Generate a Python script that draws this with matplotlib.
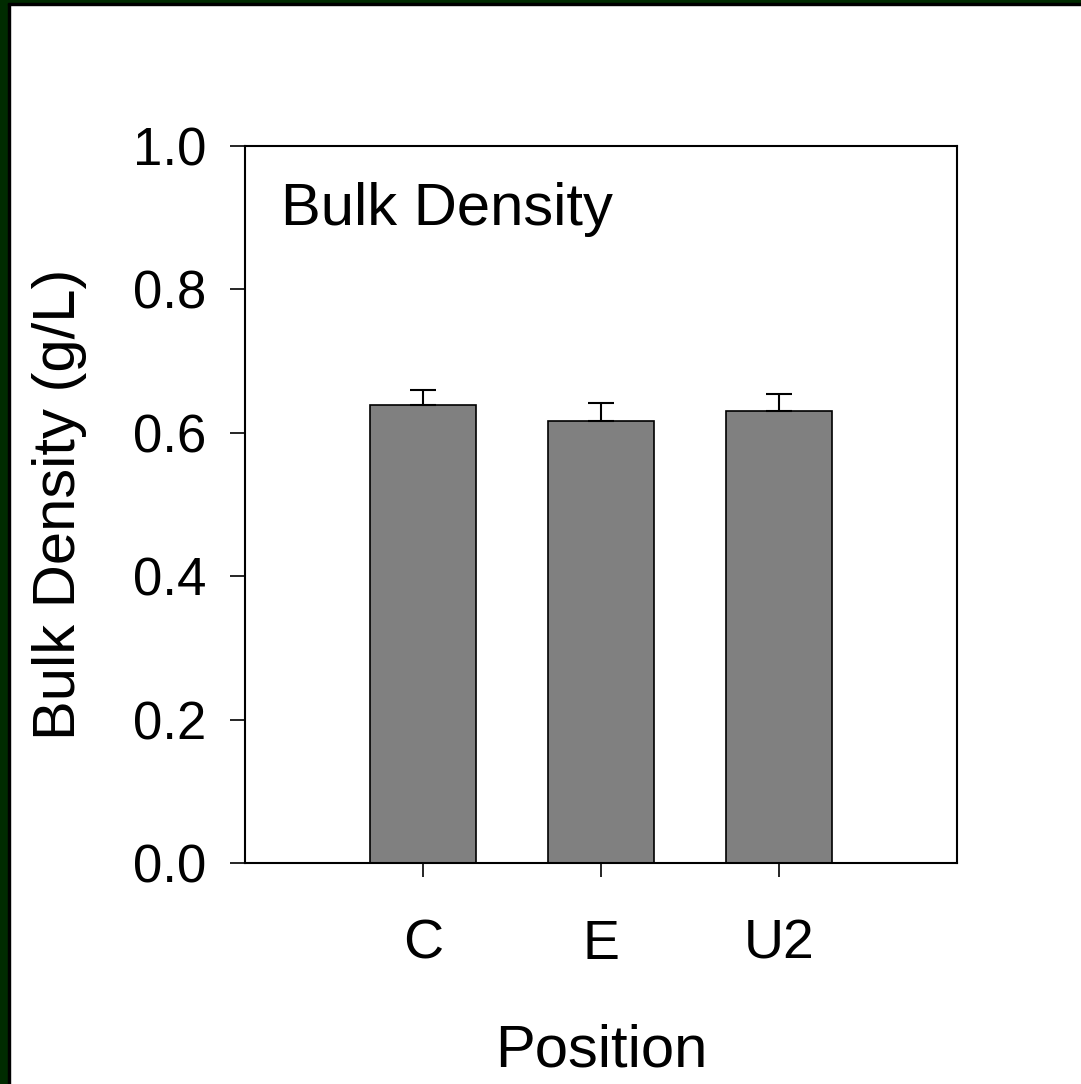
import matplotlib
matplotlib.use("Agg")
import matplotlib.pyplot as plt
from matplotlib.patches import Rectangle

categories = ["C", "E", "U2"]
values = [0.639, 0.617, 0.631]
errors = [0.021, 0.025, 0.023]
yticks = [0.0, 0.2, 0.4, 0.6, 0.8, 1.0]

plt.rcParams['font.family'] = ['Liberation Sans', 'DejaVu Sans']

fig = plt.figure(figsize=(10.81, 10.84), dpi=100)
fig.patch.set_facecolor('white')
# dark green border at left and top
fig.add_artist(Rectangle((0, 0), 8/1081, 1, transform=fig.transFigure, color='#002b00', zorder=0))
fig.add_artist(Rectangle((8/1081, 0), 2/1081, 1, transform=fig.transFigure, color='black', zorder=0))
fig.add_artist(Rectangle((0, 1 - 3/1084), 1, 3/1084, transform=fig.transFigure, color='#002b00', zorder=0))
fig.add_artist(Rectangle((8/1081, 1 - 5/1084), 1, 2/1084, transform=fig.transFigure, color='black', zorder=0))

ax = fig.add_axes([245/1081, 1 - 863/1084, (957 - 245)/1081, (863 - 146)/1084])
pos = list(range(1, len(categories) + 1))
ax.bar(pos, values, width=0.6, color='#808080', edgecolor='black', linewidth=1.2, zorder=2)
ax.errorbar(pos, values, yerr=[[0]*len(errors), errors], fmt='none', ecolor='black',
            elinewidth=1.5, capsize=9.4, capthick=1.5, zorder=3)
ax.set_xlim(0, 4)
ax.set_ylim(0, 1.0)
ax.set_yticks(yticks)
ax.set_yticklabels([f"{t:.1f}" for t in yticks])
ax.set_xticks(pos)
ax.set_xticklabels(categories)
for s in ax.spines.values():
    s.set_linewidth(1.5)
ax.tick_params(axis='y', direction='out', length=11, width=1.2, labelsize=38, pad=17)
ax.tick_params(axis='x', direction='out', length=10, width=1.2, labelsize=40, pad=30)
ax.set_ylabel("Bulk Density (g/L)", fontsize=43, labelpad=33)
ax.set_xlabel("Position", fontsize=43, labelpad=38)
ax.text(281/1081, 1 - 225/1084, "Bulk Density", transform=fig.transFigure,
        fontsize=43, ha='left', va='baseline')

fig.savefig("out.png", dpi=100)
